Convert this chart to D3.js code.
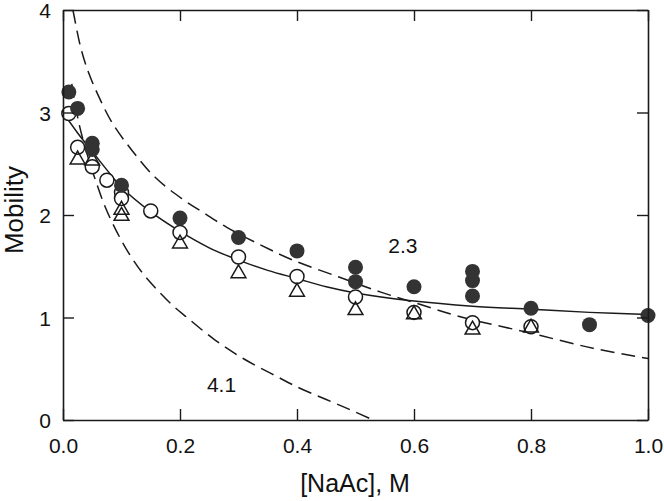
<!DOCTYPE html>
<html>
<head>
<meta charset="utf-8">
<script src="https://cdn.jsdelivr.net/npm/d3@7"></script>
<style>
  html, body { margin: 0; padding: 0; background: #fff; }
  svg { display: block; font-family: "Liberation Sans", Arial, Helvetica, sans-serif; }
</style>
</head>
<body>
<svg id="chart" width="664" height="501"></svg>
<script>
// ---- data ----
const xTicks = [0.0, 0.2, 0.4, 0.6, 0.8, 1.0];
const yTicks = [0, 1, 2, 3, 4];
const xLabel = "[NaAc], M";
const yLabel = "Mobility";

const filledPts = [[0.01,3.20],[0.025,3.04],[0.05,2.70],[0.05,2.64],[0.1,2.29],[0.2,1.97],[0.3,1.78],[0.4,1.65],[0.5,1.49],[0.5,1.35],[0.6,1.30],[0.7,1.45],[0.7,1.36],[0.7,1.21],[0.8,1.09],[0.9,0.93],[1.0,1.02]];
const openPts = [[0.01,2.99],[0.025,2.66],[0.05,2.47],[0.075,2.34],[0.1,2.22],[0.1,2.16],[0.15,2.04],[0.2,1.83],[0.3,1.59],[0.4,1.40],[0.5,1.20],[0.6,1.05],[0.7,0.95],[0.8,0.91]];
const triPts = [[0.025,2.54],[0.05,2.53],[0.1,2.05],[0.1,1.99],[0.2,1.72],[0.3,1.43],[0.4,1.25],[0.5,1.07],[0.6,1.03],[0.7,0.88],[0.8,0.90]];

const solidCurve = [[0.0,3.00],[0.025,2.80],[0.05,2.62],[0.075,2.44],[0.1,2.27],[0.15,2.03],[0.2,1.84],[0.25,1.68],[0.3,1.56],[0.35,1.46],[0.4,1.38],[0.45,1.30],[0.5,1.24],[0.6,1.16],[0.7,1.11],[0.8,1.08],[0.9,1.05],[1.0,1.03]];
const dash23 = [[0.017,4.00],[0.030,3.64],[0.043,3.40],[0.060,3.17],[0.084,2.90],[0.118,2.63],[0.157,2.37],[0.203,2.16],[0.238,2.03],[0.280,1.88],[0.337,1.71],[0.393,1.56],[0.474,1.39],[0.542,1.25],[0.598,1.15],[0.684,1.00],[0.798,0.85],[0.906,0.70],[1.0,0.60]];
const dash41 = [[0.015,3.28],[0.027,2.90],[0.043,2.56],[0.058,2.30],[0.072,2.08],[0.089,1.87],[0.109,1.66],[0.135,1.44],[0.161,1.27],[0.187,1.12],[0.212,1.00],[0.260,0.78],[0.308,0.60],[0.357,0.45],[0.405,0.31],[0.450,0.20],[0.491,0.10],[0.530,0.00]];

const curveLabels = [{text:"2.3", x:0.556, y:1.63},{text:"4.1", x:0.246, y:0.27}];

// ---- layout ----
const svg = d3.select("#chart");
const W = 664, H = 501;
const m = {left: 63, top: 10, right: 16, bottom: 81};
const iw = W - m.left - m.right, ih = H - m.top - m.bottom;
const x = d3.scaleLinear().domain([0, 1]).range([m.left, m.left + iw]);
const y = d3.scaleLinear().domain([0, 4]).range([m.top + ih, m.top]);
const ink = "#1a1a1a";
const tickLen = 11;

const g = svg.append("g");

svg.append("defs").append("clipPath").attr("id", "clip")
  .append("rect").attr("x", m.left).attr("y", m.top).attr("width", iw).attr("height", ih);

const line = d3.line().x(d => x(d[0])).y(d => y(d[1])).curve(d3.curveCatmullRom.alpha(0.5));

const curves = g.append("g").attr("clip-path", "url(#clip)");
curves.append("path").datum(solidCurve).attr("d", line)
  .attr("fill", "none").attr("stroke", ink).attr("stroke-width", 1.5);
curves.append("path").datum(dash23).attr("d", line)
  .attr("fill", "none").attr("stroke", ink).attr("stroke-width", 1.5).attr("stroke-dasharray", "14,7");
curves.append("path").datum(dash41).attr("d", line)
  .attr("fill", "none").attr("stroke", ink).attr("stroke-width", 1.5).attr("stroke-dasharray", "14,7");

// markers
g.append("g").selectAll("circle").data(openPts).join("circle")
  .attr("cx", d => x(d[0])).attr("cy", d => y(d[1])).attr("r", 7)
  .attr("fill", "#fff").attr("stroke", ink).attr("stroke-width", 1.5);

const tri = d3.symbol().type(d3.symbolTriangle).size(95);
g.append("g").selectAll("path").data(triPts).join("path")
  .attr("d", tri)
  .attr("transform", d => `translate(${x(d[0])},${y(d[1])})`)
  .attr("fill", "none").attr("stroke", ink).attr("stroke-width", 1.5);

g.append("g").selectAll("circle").data(filledPts).join("circle")
  .attr("cx", d => x(d[0])).attr("cy", d => y(d[1])).attr("r", 7.5)
  .attr("fill", "#333");

// axes (inward ticks)
const axB = d3.axisBottom(x).tickValues(xTicks).tickFormat(d3.format(".1f")).tickSizeInner(-tickLen).tickSizeOuter(0).tickPadding(18);
const axT = d3.axisTop(x).tickValues(xTicks).tickFormat("").tickSizeInner(-tickLen).tickSizeOuter(0);
const axL = d3.axisLeft(y).tickValues(yTicks).tickFormat(d3.format("d")).tickSizeInner(-tickLen).tickSizeOuter(0).tickPadding(12);
const axR = d3.axisRight(y).tickValues(yTicks).tickFormat("").tickSizeInner(-tickLen).tickSizeOuter(0);

function style(sel) {
  sel.selectAll("path").attr("stroke", ink).attr("stroke-width", 1.6);
  sel.selectAll("line").attr("stroke", ink).attr("stroke-width", 1.4);
  sel.selectAll("text").attr("fill", "#111").style("font-size", "21px")
    .style("font-family", '"Liberation Sans", Arial, sans-serif');
}
g.append("g").attr("transform", `translate(0,${m.top + ih})`).call(axB).call(style);
g.append("g").attr("transform", `translate(0,${m.top})`).call(axT).call(style);
const gl = g.append("g").attr("transform", `translate(${m.left},0)`).call(axL).call(style);
gl.selectAll("text").attr("dy", "0.36em");
g.append("g").attr("transform", `translate(${m.left + iw},0)`).call(axR).call(style);

// curve labels
g.append("g").selectAll("text").data(curveLabels).join("text")
  .attr("x", d => x(d.x)).attr("y", d => y(d.y))
  .attr("fill", "#111").style("font-size", "21px").text(d => d.text);

// axis titles
svg.append("text").attr("x", 355).attr("y", 492).attr("text-anchor", "middle")
  .attr("fill", "#111").style("font-size", "25px").text(xLabel);
svg.append("text").attr("transform", "translate(23,210) rotate(-90)").attr("text-anchor", "middle")
  .attr("fill", "#111").style("font-size", "26px").text(yLabel);
</script>
</body>
</html>
